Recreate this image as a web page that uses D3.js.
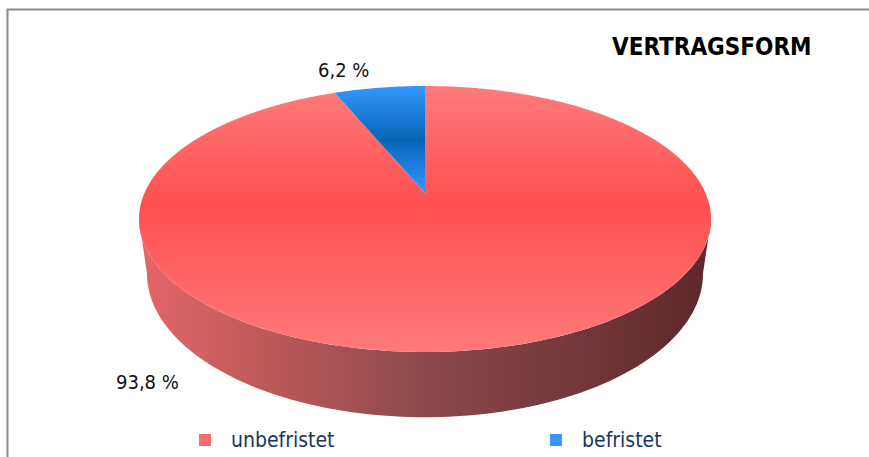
<!DOCTYPE html>
<html>
<head>
<meta charset="utf-8">
<script src="https://cdn.jsdelivr.net/npm/d3@7"></script>
<style>
  body { margin: 0; background: #fff; }
  text { font-family: "DejaVu Sans Condensed", "DejaVu Sans", sans-serif; font-stretch: condensed; }
</style>
</head>
<body>
<svg id="chart" width="869" height="457"></svg>
<script>
// data
const categories = ["unbefristet", "befristet"];
const values = [93.8, 6.2];
const valueLabels = ["93,8 %", "6,2 %"];
const chartTitle = "VERTRAGSFORM";

const svg = d3.select("#chart");

// 3D pie geometry (perspective projection of a tilted disc)
const cx = 425, cy = 193;
const a = 280.5, b = 127.9, p = 0.1955, H = 52.5;
const shrink = 0.028; // bottom face a little narrower (further from camera)

function proj(t, depth) {
  const u = Math.sin(t), v = Math.cos(t), w = 1 + p * v;
  const ax = a * (1 - shrink * depth / H);
  return [cx + ax * u / w, cy + (-b * v + depth) / w];
}

const defs = svg.append("defs");

function grad(id, x1, y1, x2, y2, stops) {
  const g = defs.append("linearGradient")
    .attr("id", id)
    .attr("gradientUnits", "userSpaceOnUse")
    .attr("x1", x1).attr("y1", y1).attr("x2", x2).attr("y2", y2);
  stops.forEach(s => g.append("stop").attr("offset", s[0]).attr("stop-color", s[1]));
}

grad("topRed", 0, 86, 0, 352, [[0, "#ff7b7b"], [0.45, "#ff5050"], [1, "#ff7a7a"]]);
grad("sideRed", 139, 0, 711, 0, [[0, "#e46666"], [0.5, "#8c494d"], [1, "#5c282b"]]);
grad("topBlue", 0, 86, 0, 193, [[0, "#3399ff"], [0.5, "#0765b6"], [1, "#3399ff"]]);
grad("legRed", 0, 434, 0, 446, [[0, "#ff6a6a"], [0.5, "#ff4a4a"], [1, "#ff7070"]]);
grad("legBlue", 0, 433, 0, 445, [[0, "#3399ff"], [0.5, "#0765b6"], [1, "#3399ff"]]);

const topFills = ["url(#topRed)", "url(#topBlue)"];
const legendFills = ["url(#legRed)", "url(#legBlue)"];

// frame
svg.append("path")
  .attr("d", "M869,9.5 L7.5,9.5 L7.5,457")
  .attr("fill", "none")
  .attr("stroke", "#8a8a8a")
  .attr("stroke-width", 2);

const pie = d3.pie().sort(null).value(d => d)(values);
const line = d3.line();

// front side wall: top front arc + bottom front arc
const tR = Math.atan2(Math.sqrt(1 - p * p), -p);
const tL = 2 * Math.PI - tR;
const n = 120;
const topEdge = d3.range(n + 1).map(i => proj(tR + (tL - tR) * i / n, 0));
const botEdge = d3.range(n + 1).map(i => proj(tL - (tL - tR) * i / n, H));
svg.append("path")
  .attr("d", line(topEdge.concat(botEdge)) + "Z")
  .attr("fill", "url(#sideRed)");

// top faces
svg.selectAll("path.slice")
  .data(pie)
  .enter().append("path")
  .attr("class", "slice")
  .attr("d", d => {
    const k = Math.max(2, Math.ceil((d.endAngle - d.startAngle) * 60));
    const pts = [[cx, cy]].concat(d3.range(k + 1).map(i =>
      proj(d.startAngle + (d.endAngle - d.startAngle) * i / k, 0)));
    return line(pts) + "Z";
  })
  .attr("fill", (d, i) => topFills[i]);

// value labels
const labelPos = [[116, 389], [318, 77]];
svg.selectAll("text.val")
  .data(valueLabels)
  .enter().append("text")
  .attr("class", "val")
  .attr("x", (d, i) => labelPos[i][0])
  .attr("y", (d, i) => labelPos[i][1])
  .attr("font-size", 20)
  .attr("fill", "#111")
  .text(d => d);

// title
svg.append("text")
  .attr("x", 612).attr("y", 55)
  .attr("font-size", 24)
  .attr("font-weight", "bold")
  .attr("fill", "#000")
  .text(chartTitle);

// legend background (covers bottom of pie)
svg.append("rect")
  .attr("x", 185).attr("y", 415).attr("width", 194).attr("height", 42)
  .attr("fill", "#fff");

const legendX = [199, 550];
const legend = svg.selectAll("g.leg")
  .data(categories)
  .enter().append("g")
  .attr("class", "leg")
  .attr("transform", (d, i) => "translate(" + legendX[i] + ",433)");
legend.append("rect")
  .attr("x", 0).attr("y", 1).attr("width", 12).attr("height", 12)
  .attr("fill", (d, i) => legendFills[i]);
legend.append("text")
  .attr("x", 32).attr("y", 14)
  .attr("font-size", 21)
  .attr("fill", "#17365d")
  .text(d => d);
</script>
</body>
</html>
